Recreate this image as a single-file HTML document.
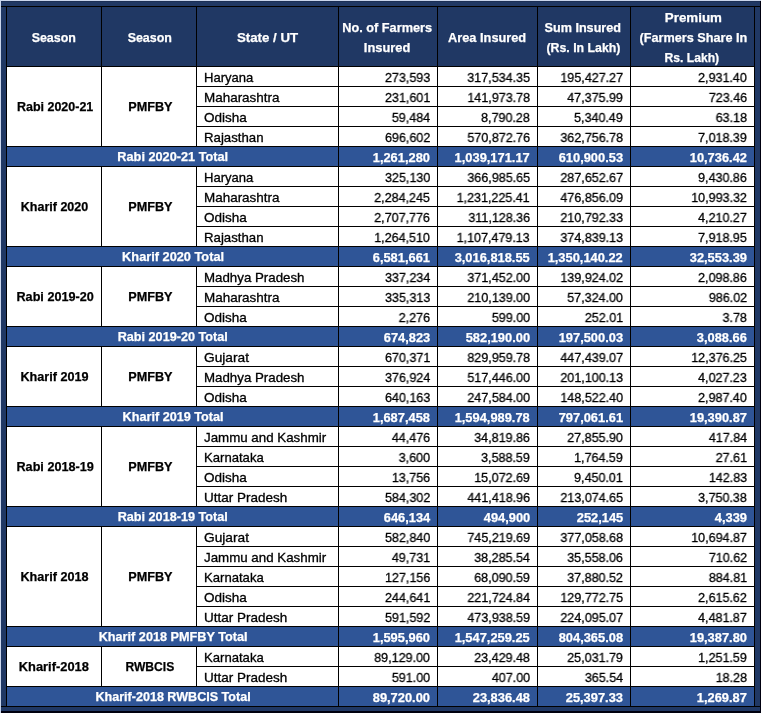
<!DOCTYPE html>
<html><head><meta charset="utf-8"><style>
html,body{margin:0;padding:0}
body{width:761px;height:713px;position:relative;overflow:hidden;background:#203864;font-family:"Liberation Sans",sans-serif}
.r{position:absolute}
.t{position:absolute;white-space:nowrap;will-change:transform;color:#000;font-size:12.8px;line-height:20px}
.t{-webkit-text-stroke:0.3px currentColor}
.b{font-weight:bold;-webkit-text-stroke:0.25px currentColor}
.w{color:#fff}
</style></head><body>
<div class="r" style="left:0;top:0;width:761px;height:1px;background:#c9d5ec"></div>
<div class="r" style="left:0;top:0;width:1px;height:713px;background:#c9d5ec"></div>
<div class="r" style="left:760px;top:1px;width:1px;height:712px;background:#00000f"></div>
<div class="r" style="left:1px;top:711px;width:760px;height:2px;background:#00000f"></div>
<div class="r" style="left:1px;top:1px;width:759px;height:1px;background:#1b2f55"></div>
<div class="r" style="left:1px;top:6px;width:759px;height:1px;background:#000"></div>
<div class="r" style="left:1px;top:706px;width:759px;height:1px;background:#000"></div>
<div class="r" style="left:6px;top:6px;width:749px;height:701px;background:#000"></div>
<div class="r" style="left:7px;top:7px;width:94px;height:59px;background:#203864"></div><div class="t b w" style="left:-246.00px;top:28px;width:600px;text-align:center"><span style="display:inline-block;transform:scaleX(0.9723)">Season</span></div><div class="r" style="left:102px;top:7px;width:94px;height:59px;background:#203864"></div><div class="t b w" style="left:-150.50px;top:28px;width:600px;text-align:center"><span style="display:inline-block;transform:scaleX(0.9723)">Season</span></div><div class="r" style="left:197px;top:7px;width:141px;height:59px;background:#203864"></div><div class="t b w" style="left:-32.00px;top:28px;width:600px;text-align:center"><span style="display:inline-block;transform:scaleX(1.0374)">State / UT</span></div><div class="r" style="left:339px;top:7px;width:98px;height:59px;background:#203864"></div><div class="t b w" style="left:86.80px;top:18px;width:600px;text-align:center"><span style="display:inline-block;transform:scaleX(0.9947)">No. of Farmers</span></div><div class="t b w" style="left:87.30px;top:38px;width:600px;text-align:center"><span style="display:inline-block;transform:scaleX(1.0056)">Insured</span></div><div class="r" style="left:438px;top:7px;width:99px;height:59px;background:#203864"></div><div class="t b w" style="left:187.40px;top:28px;width:600px;text-align:center"><span style="display:inline-block;transform:scaleX(0.9983)">Area Insured</span></div><div class="r" style="left:538px;top:7px;width:92px;height:59px;background:#203864"></div><div class="t b w" style="left:283.00px;top:18px;width:600px;text-align:center"><span style="display:inline-block;transform:scaleX(0.9867)">Sum Insured</span></div><div class="t b w" style="left:283.30px;top:38px;width:600px;text-align:center"><span style="display:inline-block;transform:scaleX(0.9630)">(Rs. In Lakh)</span></div><div class="r" style="left:631px;top:7px;width:123px;height:59px;background:#203864"></div><div class="t b w" style="left:392.50px;top:8px;width:600px;text-align:center"><span style="display:inline-block;transform:scaleX(1.0421)">Premium</span></div><div class="t b w" style="left:392.50px;top:28px;width:600px;text-align:center"><span style="display:inline-block;transform:scaleX(0.9908)">(Farmers Share In</span></div><div class="t b w" style="left:392.20px;top:48px;width:600px;text-align:center"><span style="display:inline-block;transform:scaleX(0.9492)">Rs. Lakh)</span></div><div class="r" style="left:7px;top:67px;width:94px;height:79px;background:#fff"></div><div class="r" style="left:102px;top:67px;width:94px;height:79px;background:#fff"></div><div class="t b" style="left:-244.70px;top:97px;width:600px;text-align:center"><span style="display:inline-block;transform:scaleX(0.9752)">Rabi 2020-21</span></div><div class="t b" style="left:-150.50px;top:97px;width:600px;text-align:center"><span style="display:inline-block;transform:scaleX(0.9880)">PMFBY</span></div><div class="r" style="left:197px;top:67px;width:141px;height:19px;background:#fff"></div><div class="t" style="left:203.60px;top:68px;transform-origin:0 0;transform:scaleX(1.0195)">Haryana</div><div class="r" style="left:339px;top:67px;width:98px;height:19px;background:#fff"></div><div class="t" style="right:331.20px;top:68px;transform-origin:100% 0;transform:scaleX(0.9792)">273,593</div><div class="r" style="left:438px;top:67px;width:99px;height:19px;background:#fff"></div><div class="t" style="right:231.20px;top:68px;transform-origin:100% 0;transform:scaleX(0.9802)">317,534.35</div><div class="r" style="left:538px;top:67px;width:92px;height:19px;background:#fff"></div><div class="t" style="right:138.20px;top:68px;transform-origin:100% 0;transform:scaleX(0.9781)">195,427.27</div><div class="r" style="left:631px;top:67px;width:123px;height:19px;background:#fff"></div><div class="t" style="right:14.20px;top:68px;transform-origin:100% 0;transform:scaleX(0.9781)">2,931.40</div><div class="r" style="left:197px;top:87px;width:141px;height:19px;background:#fff"></div><div class="t" style="left:203.60px;top:88px;transform-origin:0 0;transform:scaleX(1.0506)">Maharashtra</div><div class="r" style="left:339px;top:87px;width:98px;height:19px;background:#fff"></div><div class="t" style="right:331.20px;top:88px;transform-origin:100% 0;transform:scaleX(0.9781)">231,601</div><div class="r" style="left:438px;top:87px;width:99px;height:19px;background:#fff"></div><div class="t" style="right:231.20px;top:88px;transform-origin:100% 0;transform:scaleX(0.9781)">141,973.78</div><div class="r" style="left:538px;top:87px;width:92px;height:19px;background:#fff"></div><div class="t" style="right:138.20px;top:88px;transform-origin:100% 0;transform:scaleX(0.9781)">47,375.99</div><div class="r" style="left:631px;top:87px;width:123px;height:19px;background:#fff"></div><div class="t" style="right:14.20px;top:88px;transform-origin:100% 0;transform:scaleX(0.9781)">723.46</div><div class="r" style="left:197px;top:107px;width:141px;height:19px;background:#fff"></div><div class="t" style="left:203.60px;top:108px;transform-origin:0 0;transform:scaleX(1.0564)">Odisha</div><div class="r" style="left:339px;top:107px;width:98px;height:19px;background:#fff"></div><div class="t" style="right:331.20px;top:108px;transform-origin:100% 0;transform:scaleX(0.9781)">59,484</div><div class="r" style="left:438px;top:107px;width:99px;height:19px;background:#fff"></div><div class="t" style="right:231.20px;top:108px;transform-origin:100% 0;transform:scaleX(0.9781)">8,790.28</div><div class="r" style="left:538px;top:107px;width:92px;height:19px;background:#fff"></div><div class="t" style="right:138.20px;top:108px;transform-origin:100% 0;transform:scaleX(0.9781)">5,340.49</div><div class="r" style="left:631px;top:107px;width:123px;height:19px;background:#fff"></div><div class="t" style="right:14.20px;top:108px;transform-origin:100% 0;transform:scaleX(0.9781)">63.18</div><div class="r" style="left:197px;top:127px;width:141px;height:19px;background:#fff"></div><div class="t" style="left:203.60px;top:128px;transform-origin:0 0;transform:scaleX(1.0321)">Rajasthan</div><div class="r" style="left:339px;top:127px;width:98px;height:19px;background:#fff"></div><div class="t" style="right:331.20px;top:128px;transform-origin:100% 0;transform:scaleX(0.9781)">696,602</div><div class="r" style="left:438px;top:127px;width:99px;height:19px;background:#fff"></div><div class="t" style="right:231.20px;top:128px;transform-origin:100% 0;transform:scaleX(0.9781)">570,872.76</div><div class="r" style="left:538px;top:127px;width:92px;height:19px;background:#fff"></div><div class="t" style="right:138.20px;top:128px;transform-origin:100% 0;transform:scaleX(0.9781)">362,756.78</div><div class="r" style="left:631px;top:127px;width:123px;height:19px;background:#fff"></div><div class="t" style="right:14.20px;top:128px;transform-origin:100% 0;transform:scaleX(0.9781)">7,018.39</div><div class="r" style="left:7px;top:147px;width:331px;height:19px;background:#2F5597"></div><div class="t b w" style="left:-127.00px;top:147px;width:600px;text-align:center"><span style="display:inline-block;transform:scaleX(0.9934)">Rabi 2020-21 Total</span></div><div class="r" style="left:339px;top:147px;width:98px;height:19px;background:#2F5597"></div><div class="t b w" style="right:331.20px;top:148px;transform-origin:100% 0;transform:scaleX(1.0042)">1,261,280</div><div class="r" style="left:438px;top:147px;width:99px;height:19px;background:#2F5597"></div><div class="t b w" style="right:231.20px;top:148px;transform-origin:100% 0;transform:scaleX(1.0056)">1,039,171.17</div><div class="r" style="left:538px;top:147px;width:92px;height:19px;background:#2F5597"></div><div class="t b w" style="right:138.20px;top:148px;transform-origin:100% 0;transform:scaleX(1.0048)">610,900.53</div><div class="r" style="left:631px;top:147px;width:123px;height:19px;background:#2F5597"></div><div class="t b w" style="right:14.20px;top:148px;transform-origin:100% 0;transform:scaleX(1.0048)">10,736.42</div><div class="r" style="left:7px;top:167px;width:94px;height:79px;background:#fff"></div><div class="r" style="left:102px;top:167px;width:94px;height:79px;background:#fff"></div><div class="t b" style="left:-246.30px;top:197px;width:600px;text-align:center"><span style="display:inline-block;transform:scaleX(0.9793)">Kharif 2020</span></div><div class="t b" style="left:-150.50px;top:197px;width:600px;text-align:center"><span style="display:inline-block;transform:scaleX(0.9880)">PMFBY</span></div><div class="r" style="left:197px;top:167px;width:141px;height:19px;background:#fff"></div><div class="t" style="left:203.60px;top:168px;transform-origin:0 0;transform:scaleX(1.0195)">Haryana</div><div class="r" style="left:339px;top:167px;width:98px;height:19px;background:#fff"></div><div class="t" style="right:331.20px;top:168px;transform-origin:100% 0;transform:scaleX(0.9781)">325,130</div><div class="r" style="left:438px;top:167px;width:99px;height:19px;background:#fff"></div><div class="t" style="right:231.20px;top:168px;transform-origin:100% 0;transform:scaleX(0.9781)">366,985.65</div><div class="r" style="left:538px;top:167px;width:92px;height:19px;background:#fff"></div><div class="t" style="right:138.20px;top:168px;transform-origin:100% 0;transform:scaleX(0.9781)">287,652.67</div><div class="r" style="left:631px;top:167px;width:123px;height:19px;background:#fff"></div><div class="t" style="right:14.20px;top:168px;transform-origin:100% 0;transform:scaleX(0.9781)">9,430.86</div><div class="r" style="left:197px;top:187px;width:141px;height:19px;background:#fff"></div><div class="t" style="left:203.60px;top:188px;transform-origin:0 0;transform:scaleX(1.0506)">Maharashtra</div><div class="r" style="left:339px;top:187px;width:98px;height:19px;background:#fff"></div><div class="t" style="right:331.20px;top:188px;transform-origin:100% 0;transform:scaleX(0.9781)">2,284,245</div><div class="r" style="left:438px;top:187px;width:99px;height:19px;background:#fff"></div><div class="t" style="right:231.20px;top:188px;transform-origin:100% 0;transform:scaleX(0.9781)">1,231,225.41</div><div class="r" style="left:538px;top:187px;width:92px;height:19px;background:#fff"></div><div class="t" style="right:138.20px;top:188px;transform-origin:100% 0;transform:scaleX(0.9781)">476,856.09</div><div class="r" style="left:631px;top:187px;width:123px;height:19px;background:#fff"></div><div class="t" style="right:14.20px;top:188px;transform-origin:100% 0;transform:scaleX(0.9781)">10,993.32</div><div class="r" style="left:197px;top:207px;width:141px;height:19px;background:#fff"></div><div class="t" style="left:203.60px;top:208px;transform-origin:0 0;transform:scaleX(1.0564)">Odisha</div><div class="r" style="left:339px;top:207px;width:98px;height:19px;background:#fff"></div><div class="t" style="right:331.20px;top:208px;transform-origin:100% 0;transform:scaleX(0.9781)">2,707,776</div><div class="r" style="left:438px;top:207px;width:99px;height:19px;background:#fff"></div><div class="t" style="right:231.20px;top:208px;transform-origin:100% 0;transform:scaleX(0.9781)">311,128.36</div><div class="r" style="left:538px;top:207px;width:92px;height:19px;background:#fff"></div><div class="t" style="right:138.20px;top:208px;transform-origin:100% 0;transform:scaleX(0.9781)">210,792.33</div><div class="r" style="left:631px;top:207px;width:123px;height:19px;background:#fff"></div><div class="t" style="right:14.20px;top:208px;transform-origin:100% 0;transform:scaleX(0.9781)">4,210.27</div><div class="r" style="left:197px;top:227px;width:141px;height:19px;background:#fff"></div><div class="t" style="left:203.60px;top:228px;transform-origin:0 0;transform:scaleX(1.0321)">Rajasthan</div><div class="r" style="left:339px;top:227px;width:98px;height:19px;background:#fff"></div><div class="t" style="right:331.20px;top:228px;transform-origin:100% 0;transform:scaleX(0.9781)">1,264,510</div><div class="r" style="left:438px;top:227px;width:99px;height:19px;background:#fff"></div><div class="t" style="right:231.20px;top:228px;transform-origin:100% 0;transform:scaleX(0.9781)">1,107,479.13</div><div class="r" style="left:538px;top:227px;width:92px;height:19px;background:#fff"></div><div class="t" style="right:138.20px;top:228px;transform-origin:100% 0;transform:scaleX(0.9781)">374,839.13</div><div class="r" style="left:631px;top:227px;width:123px;height:19px;background:#fff"></div><div class="t" style="right:14.20px;top:228px;transform-origin:100% 0;transform:scaleX(0.9781)">7,918.95</div><div class="r" style="left:7px;top:247px;width:331px;height:19px;background:#2F5597"></div><div class="t b w" style="left:-127.00px;top:247px;width:600px;text-align:center"><span style="display:inline-block;transform:scaleX(0.9979)">Kharif 2020 Total</span></div><div class="r" style="left:339px;top:247px;width:98px;height:19px;background:#2F5597"></div><div class="t b w" style="right:331.20px;top:248px;transform-origin:100% 0;transform:scaleX(1.0048)">6,581,661</div><div class="r" style="left:438px;top:247px;width:99px;height:19px;background:#2F5597"></div><div class="t b w" style="right:231.20px;top:248px;transform-origin:100% 0;transform:scaleX(1.0048)">3,016,818.55</div><div class="r" style="left:538px;top:247px;width:92px;height:19px;background:#2F5597"></div><div class="t b w" style="right:138.20px;top:248px;transform-origin:100% 0;transform:scaleX(1.0048)">1,350,140.22</div><div class="r" style="left:631px;top:247px;width:123px;height:19px;background:#2F5597"></div><div class="t b w" style="right:14.20px;top:248px;transform-origin:100% 0;transform:scaleX(1.0048)">32,553.39</div><div class="r" style="left:7px;top:267px;width:94px;height:59px;background:#fff"></div><div class="r" style="left:102px;top:267px;width:94px;height:59px;background:#fff"></div><div class="t b" style="left:-244.70px;top:287px;width:600px;text-align:center"><span style="display:inline-block;transform:scaleX(0.9880)">Rabi 2019-20</span></div><div class="t b" style="left:-150.50px;top:287px;width:600px;text-align:center"><span style="display:inline-block;transform:scaleX(0.9880)">PMFBY</span></div><div class="r" style="left:197px;top:267px;width:141px;height:19px;background:#fff"></div><div class="t" style="left:203.60px;top:268px;transform-origin:0 0;transform:scaleX(1.0390)">Madhya Pradesh</div><div class="r" style="left:339px;top:267px;width:98px;height:19px;background:#fff"></div><div class="t" style="right:331.20px;top:268px;transform-origin:100% 0;transform:scaleX(0.9781)">337,234</div><div class="r" style="left:438px;top:267px;width:99px;height:19px;background:#fff"></div><div class="t" style="right:231.20px;top:268px;transform-origin:100% 0;transform:scaleX(0.9781)">371,452.00</div><div class="r" style="left:538px;top:267px;width:92px;height:19px;background:#fff"></div><div class="t" style="right:138.20px;top:268px;transform-origin:100% 0;transform:scaleX(0.9781)">139,924.02</div><div class="r" style="left:631px;top:267px;width:123px;height:19px;background:#fff"></div><div class="t" style="right:14.20px;top:268px;transform-origin:100% 0;transform:scaleX(0.9781)">2,098.86</div><div class="r" style="left:197px;top:287px;width:141px;height:19px;background:#fff"></div><div class="t" style="left:203.60px;top:288px;transform-origin:0 0;transform:scaleX(1.0506)">Maharashtra</div><div class="r" style="left:339px;top:287px;width:98px;height:19px;background:#fff"></div><div class="t" style="right:331.20px;top:288px;transform-origin:100% 0;transform:scaleX(0.9781)">335,313</div><div class="r" style="left:438px;top:287px;width:99px;height:19px;background:#fff"></div><div class="t" style="right:231.20px;top:288px;transform-origin:100% 0;transform:scaleX(0.9781)">210,139.00</div><div class="r" style="left:538px;top:287px;width:92px;height:19px;background:#fff"></div><div class="t" style="right:138.20px;top:288px;transform-origin:100% 0;transform:scaleX(0.9781)">57,324.00</div><div class="r" style="left:631px;top:287px;width:123px;height:19px;background:#fff"></div><div class="t" style="right:14.20px;top:288px;transform-origin:100% 0;transform:scaleX(0.9781)">986.02</div><div class="r" style="left:197px;top:307px;width:141px;height:19px;background:#fff"></div><div class="t" style="left:203.60px;top:308px;transform-origin:0 0;transform:scaleX(1.0564)">Odisha</div><div class="r" style="left:339px;top:307px;width:98px;height:19px;background:#fff"></div><div class="t" style="right:331.20px;top:308px;transform-origin:100% 0;transform:scaleX(0.9781)">2,276</div><div class="r" style="left:438px;top:307px;width:99px;height:19px;background:#fff"></div><div class="t" style="right:231.20px;top:308px;transform-origin:100% 0;transform:scaleX(0.9781)">599.00</div><div class="r" style="left:538px;top:307px;width:92px;height:19px;background:#fff"></div><div class="t" style="right:138.20px;top:308px;transform-origin:100% 0;transform:scaleX(0.9781)">252.01</div><div class="r" style="left:631px;top:307px;width:123px;height:19px;background:#fff"></div><div class="t" style="right:14.20px;top:308px;transform-origin:100% 0;transform:scaleX(0.9781)">3.78</div><div class="r" style="left:7px;top:327px;width:331px;height:19px;background:#2F5597"></div><div class="t b w" style="left:-127.00px;top:327px;width:600px;text-align:center"><span style="display:inline-block;transform:scaleX(0.9880)">Rabi 2019-20 Total</span></div><div class="r" style="left:339px;top:327px;width:98px;height:19px;background:#2F5597"></div><div class="t b w" style="right:331.20px;top:328px;transform-origin:100% 0;transform:scaleX(1.0048)">674,823</div><div class="r" style="left:438px;top:327px;width:99px;height:19px;background:#2F5597"></div><div class="t b w" style="right:231.20px;top:328px;transform-origin:100% 0;transform:scaleX(1.0048)">582,190.00</div><div class="r" style="left:538px;top:327px;width:92px;height:19px;background:#2F5597"></div><div class="t b w" style="right:138.20px;top:328px;transform-origin:100% 0;transform:scaleX(1.0048)">197,500.03</div><div class="r" style="left:631px;top:327px;width:123px;height:19px;background:#2F5597"></div><div class="t b w" style="right:14.20px;top:328px;transform-origin:100% 0;transform:scaleX(1.0048)">3,088.66</div><div class="r" style="left:7px;top:347px;width:94px;height:59px;background:#fff"></div><div class="r" style="left:102px;top:347px;width:94px;height:59px;background:#fff"></div><div class="t b" style="left:-246.30px;top:367px;width:600px;text-align:center"><span style="display:inline-block;transform:scaleX(0.9880)">Kharif 2019</span></div><div class="t b" style="left:-150.50px;top:367px;width:600px;text-align:center"><span style="display:inline-block;transform:scaleX(0.9880)">PMFBY</span></div><div class="r" style="left:197px;top:347px;width:141px;height:19px;background:#fff"></div><div class="t" style="left:203.60px;top:348px;transform-origin:0 0;transform:scaleX(1.0723)">Gujarat</div><div class="r" style="left:339px;top:347px;width:98px;height:19px;background:#fff"></div><div class="t" style="right:331.20px;top:348px;transform-origin:100% 0;transform:scaleX(0.9781)">670,371</div><div class="r" style="left:438px;top:347px;width:99px;height:19px;background:#fff"></div><div class="t" style="right:231.20px;top:348px;transform-origin:100% 0;transform:scaleX(0.9781)">829,959.78</div><div class="r" style="left:538px;top:347px;width:92px;height:19px;background:#fff"></div><div class="t" style="right:138.20px;top:348px;transform-origin:100% 0;transform:scaleX(0.9781)">447,439.07</div><div class="r" style="left:631px;top:347px;width:123px;height:19px;background:#fff"></div><div class="t" style="right:14.20px;top:348px;transform-origin:100% 0;transform:scaleX(0.9781)">12,376.25</div><div class="r" style="left:197px;top:367px;width:141px;height:19px;background:#fff"></div><div class="t" style="left:203.60px;top:368px;transform-origin:0 0;transform:scaleX(1.0390)">Madhya Pradesh</div><div class="r" style="left:339px;top:367px;width:98px;height:19px;background:#fff"></div><div class="t" style="right:331.20px;top:368px;transform-origin:100% 0;transform:scaleX(0.9781)">376,924</div><div class="r" style="left:438px;top:367px;width:99px;height:19px;background:#fff"></div><div class="t" style="right:231.20px;top:368px;transform-origin:100% 0;transform:scaleX(0.9781)">517,446.00</div><div class="r" style="left:538px;top:367px;width:92px;height:19px;background:#fff"></div><div class="t" style="right:138.20px;top:368px;transform-origin:100% 0;transform:scaleX(0.9781)">201,100.13</div><div class="r" style="left:631px;top:367px;width:123px;height:19px;background:#fff"></div><div class="t" style="right:14.20px;top:368px;transform-origin:100% 0;transform:scaleX(0.9781)">4,027.23</div><div class="r" style="left:197px;top:387px;width:141px;height:19px;background:#fff"></div><div class="t" style="left:203.60px;top:388px;transform-origin:0 0;transform:scaleX(1.0564)">Odisha</div><div class="r" style="left:339px;top:387px;width:98px;height:19px;background:#fff"></div><div class="t" style="right:331.20px;top:388px;transform-origin:100% 0;transform:scaleX(0.9781)">640,163</div><div class="r" style="left:438px;top:387px;width:99px;height:19px;background:#fff"></div><div class="t" style="right:231.20px;top:388px;transform-origin:100% 0;transform:scaleX(0.9781)">247,584.00</div><div class="r" style="left:538px;top:387px;width:92px;height:19px;background:#fff"></div><div class="t" style="right:138.20px;top:388px;transform-origin:100% 0;transform:scaleX(0.9781)">148,522.40</div><div class="r" style="left:631px;top:387px;width:123px;height:19px;background:#fff"></div><div class="t" style="right:14.20px;top:388px;transform-origin:100% 0;transform:scaleX(0.9781)">2,987.40</div><div class="r" style="left:7px;top:407px;width:331px;height:19px;background:#2F5597"></div><div class="t b w" style="left:-127.00px;top:407px;width:600px;text-align:center"><span style="display:inline-block;transform:scaleX(0.9880)">Kharif 2019 Total</span></div><div class="r" style="left:339px;top:407px;width:98px;height:19px;background:#2F5597"></div><div class="t b w" style="right:331.20px;top:408px;transform-origin:100% 0;transform:scaleX(1.0048)">1,687,458</div><div class="r" style="left:438px;top:407px;width:99px;height:19px;background:#2F5597"></div><div class="t b w" style="right:231.20px;top:408px;transform-origin:100% 0;transform:scaleX(1.0048)">1,594,989.78</div><div class="r" style="left:538px;top:407px;width:92px;height:19px;background:#2F5597"></div><div class="t b w" style="right:138.20px;top:408px;transform-origin:100% 0;transform:scaleX(1.0048)">797,061.61</div><div class="r" style="left:631px;top:407px;width:123px;height:19px;background:#2F5597"></div><div class="t b w" style="right:14.20px;top:408px;transform-origin:100% 0;transform:scaleX(1.0048)">19,390.87</div><div class="r" style="left:7px;top:427px;width:94px;height:79px;background:#fff"></div><div class="r" style="left:102px;top:427px;width:94px;height:79px;background:#fff"></div><div class="t b" style="left:-244.70px;top:457px;width:600px;text-align:center"><span style="display:inline-block;transform:scaleX(0.9880)">Rabi 2018-19</span></div><div class="t b" style="left:-150.50px;top:457px;width:600px;text-align:center"><span style="display:inline-block;transform:scaleX(0.9880)">PMFBY</span></div><div class="r" style="left:197px;top:427px;width:141px;height:19px;background:#fff"></div><div class="t" style="left:203.60px;top:428px;transform-origin:0 0;transform:scaleX(1.0408)">Jammu and Kashmir</div><div class="r" style="left:339px;top:427px;width:98px;height:19px;background:#fff"></div><div class="t" style="right:331.20px;top:428px;transform-origin:100% 0;transform:scaleX(0.9781)">44,476</div><div class="r" style="left:438px;top:427px;width:99px;height:19px;background:#fff"></div><div class="t" style="right:231.20px;top:428px;transform-origin:100% 0;transform:scaleX(0.9781)">34,819.86</div><div class="r" style="left:538px;top:427px;width:92px;height:19px;background:#fff"></div><div class="t" style="right:138.20px;top:428px;transform-origin:100% 0;transform:scaleX(0.9781)">27,855.90</div><div class="r" style="left:631px;top:427px;width:123px;height:19px;background:#fff"></div><div class="t" style="right:14.20px;top:428px;transform-origin:100% 0;transform:scaleX(0.9781)">417.84</div><div class="r" style="left:197px;top:447px;width:141px;height:19px;background:#fff"></div><div class="t" style="left:203.60px;top:448px;transform-origin:0 0;transform:scaleX(1.0244)">Karnataka</div><div class="r" style="left:339px;top:447px;width:98px;height:19px;background:#fff"></div><div class="t" style="right:331.20px;top:448px;transform-origin:100% 0;transform:scaleX(0.9781)">3,600</div><div class="r" style="left:438px;top:447px;width:99px;height:19px;background:#fff"></div><div class="t" style="right:231.20px;top:448px;transform-origin:100% 0;transform:scaleX(0.9781)">3,588.59</div><div class="r" style="left:538px;top:447px;width:92px;height:19px;background:#fff"></div><div class="t" style="right:138.20px;top:448px;transform-origin:100% 0;transform:scaleX(0.9781)">1,764.59</div><div class="r" style="left:631px;top:447px;width:123px;height:19px;background:#fff"></div><div class="t" style="right:14.20px;top:448px;transform-origin:100% 0;transform:scaleX(0.9781)">27.61</div><div class="r" style="left:197px;top:467px;width:141px;height:19px;background:#fff"></div><div class="t" style="left:203.60px;top:468px;transform-origin:0 0;transform:scaleX(1.0564)">Odisha</div><div class="r" style="left:339px;top:467px;width:98px;height:19px;background:#fff"></div><div class="t" style="right:331.20px;top:468px;transform-origin:100% 0;transform:scaleX(0.9781)">13,756</div><div class="r" style="left:438px;top:467px;width:99px;height:19px;background:#fff"></div><div class="t" style="right:231.20px;top:468px;transform-origin:100% 0;transform:scaleX(0.9781)">15,072.69</div><div class="r" style="left:538px;top:467px;width:92px;height:19px;background:#fff"></div><div class="t" style="right:138.20px;top:468px;transform-origin:100% 0;transform:scaleX(0.9781)">9,450.01</div><div class="r" style="left:631px;top:467px;width:123px;height:19px;background:#fff"></div><div class="t" style="right:14.20px;top:468px;transform-origin:100% 0;transform:scaleX(0.9781)">142.83</div><div class="r" style="left:197px;top:487px;width:141px;height:19px;background:#fff"></div><div class="t" style="left:203.60px;top:488px;transform-origin:0 0;transform:scaleX(1.0547)">Uttar Pradesh</div><div class="r" style="left:339px;top:487px;width:98px;height:19px;background:#fff"></div><div class="t" style="right:331.20px;top:488px;transform-origin:100% 0;transform:scaleX(0.9781)">584,302</div><div class="r" style="left:438px;top:487px;width:99px;height:19px;background:#fff"></div><div class="t" style="right:231.20px;top:488px;transform-origin:100% 0;transform:scaleX(0.9781)">441,418.96</div><div class="r" style="left:538px;top:487px;width:92px;height:19px;background:#fff"></div><div class="t" style="right:138.20px;top:488px;transform-origin:100% 0;transform:scaleX(0.9781)">213,074.65</div><div class="r" style="left:631px;top:487px;width:123px;height:19px;background:#fff"></div><div class="t" style="right:14.20px;top:488px;transform-origin:100% 0;transform:scaleX(0.9781)">3,750.38</div><div class="r" style="left:7px;top:507px;width:331px;height:19px;background:#2F5597"></div><div class="t b w" style="left:-127.00px;top:507px;width:600px;text-align:center"><span style="display:inline-block;transform:scaleX(0.9880)">Rabi 2018-19 Total</span></div><div class="r" style="left:339px;top:507px;width:98px;height:19px;background:#2F5597"></div><div class="t b w" style="right:331.20px;top:508px;transform-origin:100% 0;transform:scaleX(1.0048)">646,134</div><div class="r" style="left:438px;top:507px;width:99px;height:19px;background:#2F5597"></div><div class="t b w" style="right:231.20px;top:508px;transform-origin:100% 0;transform:scaleX(1.0048)">494,900</div><div class="r" style="left:538px;top:507px;width:92px;height:19px;background:#2F5597"></div><div class="t b w" style="right:138.20px;top:508px;transform-origin:100% 0;transform:scaleX(1.0048)">252,145</div><div class="r" style="left:631px;top:507px;width:123px;height:19px;background:#2F5597"></div><div class="t b w" style="right:14.20px;top:508px;transform-origin:100% 0;transform:scaleX(1.0048)">4,339</div><div class="r" style="left:7px;top:527px;width:94px;height:99px;background:#fff"></div><div class="r" style="left:102px;top:527px;width:94px;height:99px;background:#fff"></div><div class="t b" style="left:-246.30px;top:567px;width:600px;text-align:center"><span style="display:inline-block;transform:scaleX(0.9880)">Kharif 2018</span></div><div class="t b" style="left:-150.50px;top:567px;width:600px;text-align:center"><span style="display:inline-block;transform:scaleX(0.9880)">PMFBY</span></div><div class="r" style="left:197px;top:527px;width:141px;height:19px;background:#fff"></div><div class="t" style="left:203.60px;top:528px;transform-origin:0 0;transform:scaleX(1.0723)">Gujarat</div><div class="r" style="left:339px;top:527px;width:98px;height:19px;background:#fff"></div><div class="t" style="right:331.20px;top:528px;transform-origin:100% 0;transform:scaleX(0.9781)">582,840</div><div class="r" style="left:438px;top:527px;width:99px;height:19px;background:#fff"></div><div class="t" style="right:231.20px;top:528px;transform-origin:100% 0;transform:scaleX(0.9781)">745,219.69</div><div class="r" style="left:538px;top:527px;width:92px;height:19px;background:#fff"></div><div class="t" style="right:138.20px;top:528px;transform-origin:100% 0;transform:scaleX(0.9781)">377,058.68</div><div class="r" style="left:631px;top:527px;width:123px;height:19px;background:#fff"></div><div class="t" style="right:14.20px;top:528px;transform-origin:100% 0;transform:scaleX(0.9781)">10,694.87</div><div class="r" style="left:197px;top:547px;width:141px;height:19px;background:#fff"></div><div class="t" style="left:203.60px;top:548px;transform-origin:0 0;transform:scaleX(1.0408)">Jammu and Kashmir</div><div class="r" style="left:339px;top:547px;width:98px;height:19px;background:#fff"></div><div class="t" style="right:331.20px;top:548px;transform-origin:100% 0;transform:scaleX(0.9781)">49,731</div><div class="r" style="left:438px;top:547px;width:99px;height:19px;background:#fff"></div><div class="t" style="right:231.20px;top:548px;transform-origin:100% 0;transform:scaleX(0.9781)">38,285.54</div><div class="r" style="left:538px;top:547px;width:92px;height:19px;background:#fff"></div><div class="t" style="right:138.20px;top:548px;transform-origin:100% 0;transform:scaleX(0.9781)">35,558.06</div><div class="r" style="left:631px;top:547px;width:123px;height:19px;background:#fff"></div><div class="t" style="right:14.20px;top:548px;transform-origin:100% 0;transform:scaleX(0.9781)">710.62</div><div class="r" style="left:197px;top:567px;width:141px;height:19px;background:#fff"></div><div class="t" style="left:203.60px;top:568px;transform-origin:0 0;transform:scaleX(1.0244)">Karnataka</div><div class="r" style="left:339px;top:567px;width:98px;height:19px;background:#fff"></div><div class="t" style="right:331.20px;top:568px;transform-origin:100% 0;transform:scaleX(0.9781)">127,156</div><div class="r" style="left:438px;top:567px;width:99px;height:19px;background:#fff"></div><div class="t" style="right:231.20px;top:568px;transform-origin:100% 0;transform:scaleX(0.9781)">68,090.59</div><div class="r" style="left:538px;top:567px;width:92px;height:19px;background:#fff"></div><div class="t" style="right:138.20px;top:568px;transform-origin:100% 0;transform:scaleX(0.9781)">37,880.52</div><div class="r" style="left:631px;top:567px;width:123px;height:19px;background:#fff"></div><div class="t" style="right:14.20px;top:568px;transform-origin:100% 0;transform:scaleX(0.9781)">884.81</div><div class="r" style="left:197px;top:587px;width:141px;height:19px;background:#fff"></div><div class="t" style="left:203.60px;top:588px;transform-origin:0 0;transform:scaleX(1.0564)">Odisha</div><div class="r" style="left:339px;top:587px;width:98px;height:19px;background:#fff"></div><div class="t" style="right:331.20px;top:588px;transform-origin:100% 0;transform:scaleX(0.9781)">244,641</div><div class="r" style="left:438px;top:587px;width:99px;height:19px;background:#fff"></div><div class="t" style="right:231.20px;top:588px;transform-origin:100% 0;transform:scaleX(0.9781)">221,724.84</div><div class="r" style="left:538px;top:587px;width:92px;height:19px;background:#fff"></div><div class="t" style="right:138.20px;top:588px;transform-origin:100% 0;transform:scaleX(0.9781)">129,772.75</div><div class="r" style="left:631px;top:587px;width:123px;height:19px;background:#fff"></div><div class="t" style="right:14.20px;top:588px;transform-origin:100% 0;transform:scaleX(0.9781)">2,615.62</div><div class="r" style="left:197px;top:607px;width:141px;height:19px;background:#fff"></div><div class="t" style="left:203.60px;top:608px;transform-origin:0 0;transform:scaleX(1.0547)">Uttar Pradesh</div><div class="r" style="left:339px;top:607px;width:98px;height:19px;background:#fff"></div><div class="t" style="right:331.20px;top:608px;transform-origin:100% 0;transform:scaleX(0.9781)">591,592</div><div class="r" style="left:438px;top:607px;width:99px;height:19px;background:#fff"></div><div class="t" style="right:231.20px;top:608px;transform-origin:100% 0;transform:scaleX(0.9781)">473,938.59</div><div class="r" style="left:538px;top:607px;width:92px;height:19px;background:#fff"></div><div class="t" style="right:138.20px;top:608px;transform-origin:100% 0;transform:scaleX(0.9781)">224,095.07</div><div class="r" style="left:631px;top:607px;width:123px;height:19px;background:#fff"></div><div class="t" style="right:14.20px;top:608px;transform-origin:100% 0;transform:scaleX(0.9781)">4,481.87</div><div class="r" style="left:7px;top:627px;width:331px;height:19px;background:#2F5597"></div><div class="t b w" style="left:-127.00px;top:627px;width:600px;text-align:center"><span style="display:inline-block;transform:scaleX(0.9913)">Kharif 2018 PMFBY Total</span></div><div class="r" style="left:339px;top:627px;width:98px;height:19px;background:#2F5597"></div><div class="t b w" style="right:331.20px;top:628px;transform-origin:100% 0;transform:scaleX(1.0048)">1,595,960</div><div class="r" style="left:438px;top:627px;width:99px;height:19px;background:#2F5597"></div><div class="t b w" style="right:231.20px;top:628px;transform-origin:100% 0;transform:scaleX(1.0048)">1,547,259.25</div><div class="r" style="left:538px;top:627px;width:92px;height:19px;background:#2F5597"></div><div class="t b w" style="right:138.20px;top:628px;transform-origin:100% 0;transform:scaleX(1.0048)">804,365.08</div><div class="r" style="left:631px;top:627px;width:123px;height:19px;background:#2F5597"></div><div class="t b w" style="right:14.20px;top:628px;transform-origin:100% 0;transform:scaleX(1.0048)">19,387.80</div><div class="r" style="left:7px;top:647px;width:94px;height:39px;background:#fff"></div><div class="r" style="left:102px;top:647px;width:94px;height:39px;background:#fff"></div><div class="t b" style="left:-246.30px;top:657px;width:600px;text-align:center"><span style="display:inline-block;transform:scaleX(1.0054)">Kharif-2018</span></div><div class="t b" style="left:-150.50px;top:657px;width:600px;text-align:center"><span style="display:inline-block;transform:scaleX(0.9465)">RWBCIS</span></div><div class="r" style="left:197px;top:647px;width:141px;height:19px;background:#fff"></div><div class="t" style="left:203.60px;top:648px;transform-origin:0 0;transform:scaleX(1.0244)">Karnataka</div><div class="r" style="left:339px;top:647px;width:98px;height:19px;background:#fff"></div><div class="t" style="right:331.20px;top:648px;transform-origin:100% 0;transform:scaleX(0.9781)">89,129.00</div><div class="r" style="left:438px;top:647px;width:99px;height:19px;background:#fff"></div><div class="t" style="right:231.20px;top:648px;transform-origin:100% 0;transform:scaleX(0.9781)">23,429.48</div><div class="r" style="left:538px;top:647px;width:92px;height:19px;background:#fff"></div><div class="t" style="right:138.20px;top:648px;transform-origin:100% 0;transform:scaleX(0.9781)">25,031.79</div><div class="r" style="left:631px;top:647px;width:123px;height:19px;background:#fff"></div><div class="t" style="right:14.20px;top:648px;transform-origin:100% 0;transform:scaleX(0.9781)">1,251.59</div><div class="r" style="left:197px;top:667px;width:141px;height:19px;background:#fff"></div><div class="t" style="left:203.60px;top:668px;transform-origin:0 0;transform:scaleX(1.0547)">Uttar Pradesh</div><div class="r" style="left:339px;top:667px;width:98px;height:19px;background:#fff"></div><div class="t" style="right:331.20px;top:668px;transform-origin:100% 0;transform:scaleX(0.9781)">591.00</div><div class="r" style="left:438px;top:667px;width:99px;height:19px;background:#fff"></div><div class="t" style="right:231.20px;top:668px;transform-origin:100% 0;transform:scaleX(0.9781)">407.00</div><div class="r" style="left:538px;top:667px;width:92px;height:19px;background:#fff"></div><div class="t" style="right:138.20px;top:668px;transform-origin:100% 0;transform:scaleX(0.9781)">365.54</div><div class="r" style="left:631px;top:667px;width:123px;height:19px;background:#fff"></div><div class="t" style="right:14.20px;top:668px;transform-origin:100% 0;transform:scaleX(0.9781)">18.28</div><div class="r" style="left:7px;top:687px;width:331px;height:19px;background:#2F5597"></div><div class="t b w" style="left:-127.00px;top:687px;width:600px;text-align:center"><span style="display:inline-block;transform:scaleX(0.9823)">Kharif-2018 RWBCIS Total</span></div><div class="r" style="left:339px;top:687px;width:98px;height:19px;background:#2F5597"></div><div class="t b w" style="right:331.20px;top:688px;transform-origin:100% 0;transform:scaleX(1.0048)">89,720.00</div><div class="r" style="left:438px;top:687px;width:99px;height:19px;background:#2F5597"></div><div class="t b w" style="right:231.20px;top:688px;transform-origin:100% 0;transform:scaleX(1.0048)">23,836.48</div><div class="r" style="left:538px;top:687px;width:92px;height:19px;background:#2F5597"></div><div class="t b w" style="right:138.20px;top:688px;transform-origin:100% 0;transform:scaleX(1.0048)">25,397.33</div><div class="r" style="left:631px;top:687px;width:123px;height:19px;background:#2F5597"></div><div class="t b w" style="right:14.20px;top:688px;transform-origin:100% 0;transform:scaleX(1.0048)">1,269.87</div>
</body></html>
